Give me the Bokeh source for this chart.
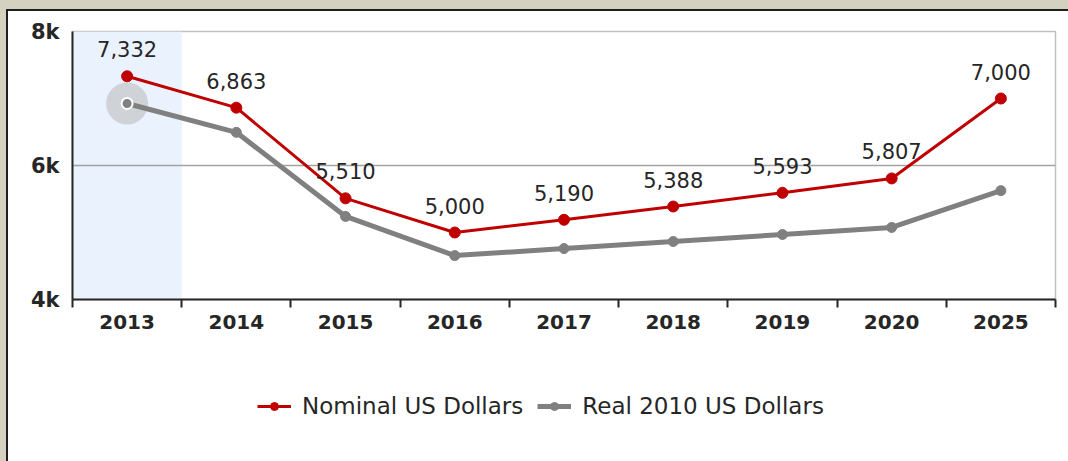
from bokeh.plotting import figure
from bokeh.models import (ColumnDataSource, FixedTicker, Legend, LegendItem,
                          LabelSet, Range1d)
from bokeh.core.properties import value
from bokeh.layouts import column
from bokeh.embed import file_html
from bokeh.resources import INLINE

# ---- data ----
years = ["2013", "2014", "2015", "2016", "2017", "2018", "2019", "2020", "2025"]
nominal = [7332, 6863, 5510, 5000, 5190, 5388, 5593, 5807, 7000]
real = [6925, 6495, 5240, 4655, 4760, 4865, 4970, 5075, 5625]
nominal_labels = ["7,332", "6,863", "5,510", "5,000", "5,190", "5,388", "5,593", "5,807", "7,000"]
series_names = ["Nominal US Dollars", "Real 2010 US Dollars"]
highlight_year = "2013"
y_ticks = [4000, 6000, 8000]
y_tick_labels = ["4k", "6k", "8k"]
grid_ticks = [6000]

idx = list(range(len(years)))
hi = years.index(highlight_year)

FONT = "DejaVu Sans"
TXT = "#262626"
RED = "#c00000"
GRAY = "#808080"

src = ColumnDataSource(dict(x=idx, nominal=nominal, real=real, lab=nominal_labels))

# ---------------- main chart ----------------
p = figure(width=1060, height=340, output_backend="svg", toolbar_location=None,
           x_range=Range1d(-0.5, len(years) - 0.5),
           y_range=Range1d(y_ticks[0], y_ticks[-1]),
           min_border_left=64, min_border_right=13, min_border_top=20,
           min_border_bottom=52)
p.background_fill_color = "white"
p.border_fill_color = "white"
p.outline_line_color = "#c0c0c0"
p.outline_line_width = 1.5

# highlight band (under the grid)
p.vbar(x=[idx[hi]], width=1, bottom=y_ticks[0], top=y_ticks[-1],
       fill_color="#eaf2fd", line_color=None, level="image")
# highlight halo
p.scatter(x=[idx[hi]], y=[real[hi]], size=42, fill_color="#cdd1d6",
          line_color=None, fill_alpha=0.95)

# series
p.line("x", "real", source=src, color=GRAY, line_width=5)
p.scatter("x", "real", source=src, size=10, color=GRAY)
p.scatter(x=[idx[hi]], y=[real[hi]], size=11, fill_color=GRAY,
          line_color="white", line_width=2)
p.line("x", "nominal", source=src, color=RED, line_width=3)
p.scatter("x", "nominal", source=src, size=11, color=RED)

labels = LabelSet(x="x", y="nominal", text="lab", source=src, y_offset=27,
                  text_align="center", text_baseline="middle",
                  text_font=value(FONT), text_font_size="21px", text_color=TXT)
p.add_layout(labels)

# grid
p.xgrid.visible = False
p.ygrid.ticker = FixedTicker(ticks=grid_ticks)
p.ygrid.grid_line_color = "#a3a3a3"
p.ygrid.grid_line_width = 1.5

# axes
xa = p.xaxis[0]
xa.ticker = FixedTicker(ticks=idx, minor_ticks=[i - 0.5 for i in range(len(years) + 1)])
xa.major_label_overrides = {i: y for i, y in zip(idx, years)}
xa.major_tick_line_color = None
xa.major_tick_out = 0
xa.major_tick_in = 0
xa.minor_tick_out = 8
xa.minor_tick_in = 0
xa.minor_tick_line_color = "#262626"
xa.minor_tick_line_width = 2
xa.axis_line_color = "#262626"
xa.axis_line_width = 2
xa.major_label_standoff = 7
xa.major_label_text_font = FONT
xa.major_label_text_font_style = "bold"
xa.major_label_text_font_size = "20px"
xa.major_label_text_color = TXT

ya = p.yaxis[0]
ya.ticker = FixedTicker(ticks=y_ticks)
ya.major_label_overrides = {t: l for t, l in zip(y_ticks, y_tick_labels)}
ya.major_tick_out = 0
ya.major_tick_in = 0
ya.minor_tick_line_color = None
ya.axis_line_color = "#262626"
ya.axis_line_width = 2
ya.major_label_standoff = 13
ya.major_label_text_font = FONT
ya.major_label_text_font_style = "bold"
ya.major_label_text_font_size = "21px"
ya.major_label_text_color = TXT

# ---------------- legend strip ----------------
lg = figure(width=1060, height=110, output_backend="svg", toolbar_location=None,
            x_range=Range1d(100, 101), y_range=Range1d(100, 101),
            x_axis_location=None, y_axis_location=None,
            min_border_left=0, min_border_right=0, min_border_top=0,
            min_border_bottom=0)
lg.outline_line_color = None
lg.grid.visible = False
lg.background_fill_color = "white"
lg.border_fill_color = "white"
l1 = lg.line("x", "nominal", source=src, color=RED, line_width=3)
s1 = lg.scatter("x", "nominal", source=src, size=11, color=RED)
l2 = lg.line("x", "real", source=src, color=GRAY, line_width=5)
s2 = lg.scatter("x", "real", source=src, size=10, color=GRAY)

legend = Legend(items=[LegendItem(label=series_names[0], renderers=[l1, s1]),
                       LegendItem(label=series_names[1], renderers=[l2, s2])],
                orientation="horizontal", location=(185, 42),
                glyph_width=34, glyph_height=20, label_standoff=11, spacing=14,
                padding=0, margin=0, border_line_color=None,
                background_fill_alpha=0,
                label_text_font=FONT, label_text_font_size="23px",
                label_text_color=TXT)
lg.add_layout(legend, "center")

inner = column(p, lg, spacing=0, width=1062, height=452,
               styles={"background-color": "white",
                       "border-left": "2px solid #1e1e1e",
                       "border-top": "2px solid #1e1e1e"})
outer = column(inner, width=1068, height=461,
               styles={"background-color": "#d5d1c1", "padding-left": "6px",
                       "padding-top": "9px"})

open("out.html", "w").write(file_html(outer, INLINE))
